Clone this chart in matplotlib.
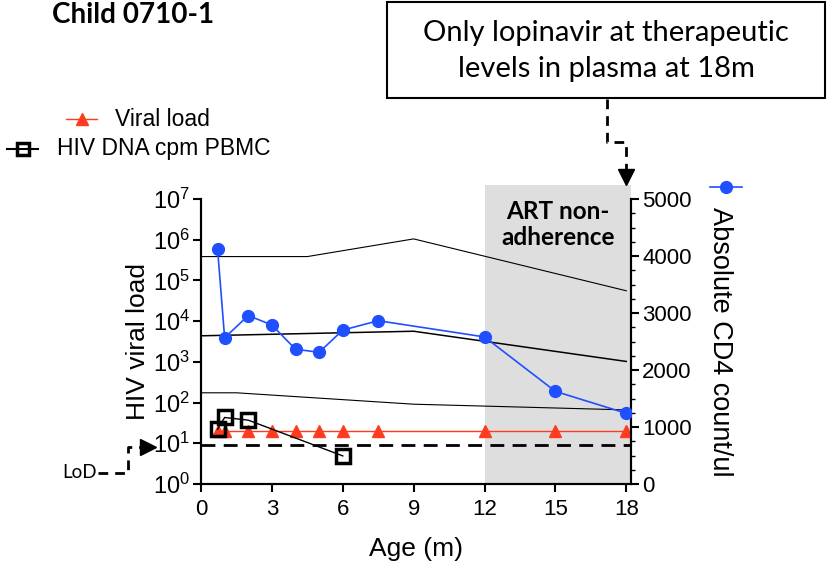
import math

import matplotlib

matplotlib.use("Agg")
import matplotlib.pyplot as plt
from matplotlib.lines import Line2D
from matplotlib.patches import Rectangle
from matplotlib.ticker import FixedLocator, FuncFormatter
import matplotlib.transforms as mtransforms

plt.rcParams["font.family"] = ["Liberation Sans", "DejaVu Sans"]
plt.rcParams["mathtext.default"] = "regular"

W, H = 827, 567

# CD4 (right axis)
age_cd4 = [0.7, 1, 2, 3, 4, 5, 6, 7.5, 12, 15, 18]
cd4 = [4130, 2565, 2955, 2790, 2365, 2310, 2700, 2865, 2580, 1625, 1240]

# viral load (left axis)
age_vl = [0.7, 1, 2, 3, 4, 5, 6, 7.5, 12, 15, 18]
vl = [20, 20, 20, 20, 20, 20, 20, 20, 20, 20, 20]

# HIV DNA cpm PBMC (left axis)
age_dna = [0.7, 1, 2, 6]
dna = [22, 43, 37, 4.9]

LOD = 9

# CD4 reference lines (right axis)
ref_hi_age = [0, 4.5, 9, 18]
ref_hi = [3990, 3990, 4300, 3390]
ref_mid_age = [0, 9, 18]
ref_mid = [2600, 2680, 2150]
ref_lo_age = [0, 1.5, 9, 18]
ref_lo = [1600, 1600, 1400, 1300]

x_ticks = [0, 3, 6, 9, 12, 15, 18]


def fx(px):
    return px / W


def fy(py):
    return 1 - py / H


fig = plt.figure(figsize=(8.27, 5.67), dpi=100)
ax = fig.add_axes([fx(201), fy(484), 430 / W, 285 / H])
ax2 = ax.twinx()

ax.set_xlim(0, 18.2)
ax.set_yscale("log")
ax.set_ylim(1, 1e7)
ax2.set_ylim(0, 5000)

# shaded non-adherence window
trans = mtransforms.blended_transform_factory(ax.transData, ax.transAxes)
ax.add_patch(Rectangle((12, 0), 6.2, 1.05, transform=trans, facecolor="#dedede",
                       edgecolor="none", clip_on=False, zorder=0.5))
ax.text(15.1, 0.995, "ART non-\nadherence", transform=trans, ha="center", va="top",
        fontsize=17.5, fontweight="bold", family="Lato", linespacing=1.15, zorder=3)

ax.axhline(LOD, color="black", lw=2, dashes=(5, 3), zorder=2)
ax.plot(age_vl, vl, color="#ff3b1f", lw=1, marker="^", ms=8, zorder=3)
ax.plot(age_dna, dna, color="black", lw=1, marker="s", ms=10, mfc="none",
        mec="black", mew=2.5, zorder=4)

for xs, ys, lw in [(ref_hi_age, ref_hi, 0.8), (ref_mid_age, ref_mid, 1.1),
                   (ref_lo_age, ref_lo, 0.8)]:
    ax2.plot(xs, ys, color="black", lw=lw, zorder=2)
ax2.plot(age_cd4, cd4, color="#1f4fff", lw=1.2, marker="o", ms=8.5, zorder=3)

# axes styling
ax.spines["top"].set_visible(False)
ax2.spines["top"].set_visible(False)
for a in (ax, ax2):
    a.spines["left"].set_linewidth(1.5)
    a.spines["right"].set_linewidth(1.5)
    a.spines["bottom"].set_linewidth(1.5)
ax.set_xticks(x_ticks)
ax.yaxis.set_major_locator(FixedLocator([10 ** k for k in range(8)]))
ax.yaxis.set_major_formatter(FuncFormatter(lambda v, p: r"$10^{%d}$" % round(math.log10(v))))
ax2.set_yticks([0, 1000, 2000, 3000, 4000, 5000])
ax2.set_yticks(range(0, 5001, 250), minor=True)
ax.tick_params(axis="x", which="major", direction="out", length=6, width=1.5,
               labelsize=16, pad=5)
ax.tick_params(axis="y", which="major", direction="out", length=6, width=1.5,
               labelsize=17, pad=2)
ax.tick_params(axis="y", which="minor", direction="out", length=3, width=1)
ax2.tick_params(axis="y", which="major", direction="out", length=6, width=1.5,
                labelsize=16, pad=2)
ax2.tick_params(axis="y", which="minor", direction="out", length=3, width=1)

ax.set_xlabel("Age (m)", fontsize=19, labelpad=12)
ax.set_ylabel("HIV viral load", fontsize=19, labelpad=2)
ax2.set_ylabel("Absolute CD4 count/ul", fontsize=19.5, rotation=270, labelpad=30)

# title at the top edge
fig.text(fx(52), fy(23), "Child 0710-1", fontsize=20, fontweight="bold",
         family="Lato", va="baseline")

# legend entries drawn by hand
fig.add_artist(Line2D([fx(66), fx(97)], [fy(119), fy(119)], color="#ff3b1f", lw=1))
fig.add_artist(Line2D([fx(81.5)], [fy(119)], marker="^", ms=8, color="#ff3b1f"))
fig.text(fx(115), fy(119), "Viral load", fontsize=16.5, va="center")
fig.add_artist(Line2D([fx(7), fx(38)], [fy(149), fy(149)], color="black", lw=1.5))
fig.add_artist(Line2D([fx(22.5)], [fy(149)], marker="s", ms=9, mfc="none",
                      mec="black", mew=2.5))
fig.text(fx(57), fy(149), "HIV DNA cpm PBMC", fontsize=16.5, va="center")
fig.add_artist(Line2D([fx(710), fx(742)], [fy(187), fy(187)], color="#1f4fff", lw=1.2))
fig.add_artist(Line2D([fx(726)], [fy(187)], marker="o", ms=8.5, color="#1f4fff"))

# annotation box and dashed elbow arrow
fig.add_artist(Rectangle((fx(387), fy(98)), fx(438), 96 / H, transform=fig.transFigure,
                         facecolor="white", edgecolor="black", lw=1.5))
fig.text(fx(606), fy(51), "Only lopinavir at therapeutic\nlevels in plasma at 18m",
         fontsize=21, family="Lato", ha="center", va="center", linespacing=1.45)
fig.add_artist(Line2D([fx(607), fx(607), fx(626), fx(626)],
                      [fy(99), fy(142), fy(142), fy(172)], color="black", lw=2,
                      dashes=(3.5, 2.5)))
fig.add_artist(Line2D([fx(626)], [fy(177)], marker="v", ms=11, color="black"))

# limit of detection pointer
fig.text(fx(62), fy(473), "LoD", fontsize=13.5, family="Lato", va="center")
fig.add_artist(Line2D([fx(98), fx(128), fx(128), fx(142)],
                      [fy(473), fy(473), fy(447), fy(447)], color="black", lw=2,
                      dashes=(3.5, 2.5)))
fig.add_artist(Line2D([fx(148)], [fy(447)], marker=">", ms=11, color="black"))

fig.savefig("out.png", dpi=100)
